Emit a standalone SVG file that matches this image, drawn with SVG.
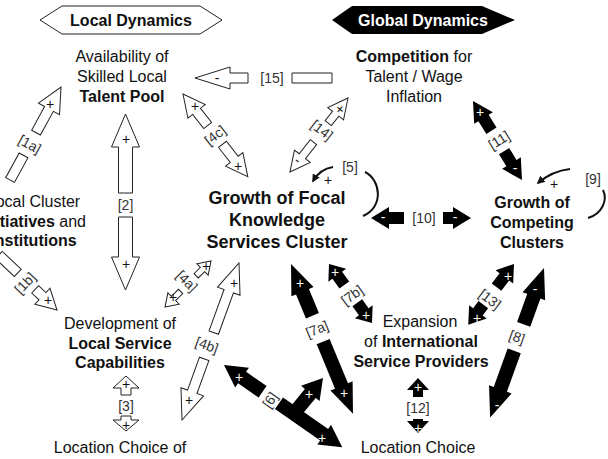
<svg xmlns="http://www.w3.org/2000/svg" width="608" height="459" viewBox="0 0 608 459">
<style>
text{font-family:"Liberation Sans",Arial,sans-serif}
.n{font-size:16px;fill:#111;text-anchor:middle}
.m{font-size:18px;font-weight:bold;fill:#111;text-anchor:middle}
.bd{font-weight:bold}
.w{fill:#fff;stroke:#222;stroke-width:1}
.b{fill:#000}
.lb{font-size:14px;fill:#333;text-anchor:middle;dominant-baseline:central}
.s{font-size:14px;fill:#111;text-anchor:middle;dominant-baseline:central}
.sw{font-size:14px;fill:#fff;text-anchor:middle;dominant-baseline:central}
.loop{fill:none;stroke:#111;stroke-width:2}
</style>
<defs>
<marker id="ah" viewBox="0 0 10 10" refX="8" refY="5" markerWidth="4" markerHeight="4" orient="auto"><path d="M0,0 L10,5 L0,10 z" fill="#111"/></marker>
</defs>
<rect width="608" height="459" fill="#fff"/>

<g id="hdr-local">
<polygon points="40,20 62,6 200,6 222,20 200,34 62,34" fill="#fff" stroke="#222" stroke-width="1"/>
<text x="131" y="26" class="n bd">Local Dynamics</text>
</g>
<g id="hdr-global">
<polygon points="332,20 352,6 482,6 515,20 482,34 352,34" fill="#000"/>
<text x="423" y="26" class="n bd" style="fill:#fff">Global Dynamics</text>
</g>

<g id="node-talent">
<text class="n" x="122" y="62">Availability of</text>
<text class="n" x="122" y="82">Skilled Local</text>
<text class="n bd" x="122" y="102">Talent Pool</text>
</g>
<g id="node-competition">
<text class="n" x="414" y="62"><tspan class="bd">Competition</tspan> for</text>
<text class="n" x="414" y="82">Talent / Wage</text>
<text class="n" x="414" y="102">Inflation</text>
</g>
<g id="node-initiatives">
<text class="n" x="33.5" y="207">Local Cluster</text>
<text class="n" x="33.5" y="227"><tspan class="bd">Initiatives</tspan> and</text>
<text class="n bd" x="33.5" y="246">Institutions</text>
</g>
<g id="node-focal">
<text class="m" x="277" y="204">Growth of Focal</text>
<text class="m" x="277" y="226">Knowledge</text>
<text class="m" x="277" y="248">Services Cluster</text>
</g>
<g id="node-competing">
<text class="n bd" x="532" y="208">Growth of</text>
<text class="n bd" x="532" y="228">Competing</text>
<text class="n bd" x="532" y="248">Clusters</text>
</g>
<g id="node-capabilities">
<text class="n" x="120" y="329">Development of</text>
<text class="n bd" x="120" y="349">Local Service</text>
<text class="n bd" x="120" y="368">Capabilities</text>
</g>
<g id="node-providers">
<text class="n" x="420" y="327">Expansion</text>
<text class="n" x="421" y="347">of <tspan class="bd">International</tspan></text>
<text class="n bd" x="421" y="367">Service Providers</text>
</g>
<g id="node-location-local">
<text class="n" x="120" y="453">Location Choice of</text>
</g>
<g id="node-location-global">
<text class="n" x="418" y="453">Location Choice</text>
</g>

<g id="connectors">
<!-- 1a -->
<g transform="translate(61,87) rotate(118.7)" class="w">
<polygon points="0,0 25,-12 25,-5 52,-5 52,5 25,5 25,12"/>
<polygon points="78,-5 106,-5 106,5 78,5"/>
</g>
<text class="lb" transform="translate(29.8,144) rotate(28.7)">[1a]</text>
<text class="s" x="50" y="104">+</text>
<!-- 1b -->
<g transform="translate(57,310) rotate(-136.6)" class="w">
<polygon points="0,0 20,-11 20,-5 30,-5 30,5 20,5 20,11"/>
<polygon points="54,-5 80,-5 80,5 54,5"/>
</g>
<text class="lb" transform="translate(25,283) rotate(-46.6)">[1b]</text>
<text class="s" x="48" y="300">+</text>
<!-- 2 -->
<g transform="translate(125.5,114) rotate(90)" class="w">
<polygon points="0,0 33,-14 33,-7 79,-7 79,7 33,7 33,14"/>
<polygon points="176,0 143,-14 143,-7 103,-7 103,7 143,7 143,14"/>
</g>
<text class="lb" x="125.5" y="205">[2]</text>
<text class="s" x="126" y="139">+</text>
<text class="s" x="126" y="264">+</text>
<!-- 3 -->
<g transform="translate(126,376) rotate(90)" class="w">
<polygon points="0,0 12,-13 12,-5 19,-5 19,5 12,5 12,13"/>
<polygon points="55,0 44,-13 44,-5 40,-5 40,5 44,5 44,13"/>
</g>
<text class="lb" x="126" y="406">[3]</text>
<text class="s" x="126" y="384">+</text>
<text class="s" x="126" y="425">+</text>
<!-- 4a -->
<g transform="translate(211,261) rotate(135)" class="w">
<polygon points="0,0 12,-8 12,-3 21,-3 21,3 12,3 12,8"/>
<polygon points="65,0 53,-8 53,-3 43,-3 43,3 53,3 53,8"/>
</g>
<text class="lb" transform="translate(187,281) rotate(45)">[4a]</text>
<text class="s" x="206" y="266">+</text>
<text class="s" x="173" y="297">+</text>
<!-- 4b -->
<g transform="translate(239,263) rotate(109.95)" class="w">
<polygon points="0,0 30,-12 30,-5 74,-5 74,5 30,5 30,12"/>
<polygon points="167,0 137,-12 137,-5 102,-5 102,5 137,5 137,12"/>
</g>
<text class="lb" transform="translate(207,345) rotate(20)">[4b]</text>
<text class="s" x="234" y="283">+</text>
<text class="s" x="189" y="400">+</text>
<!-- 4c -->
<g transform="translate(183,94) rotate(51.9)" class="w">
<polygon points="0,0 22,-11 22,-5 40,-5 40,5 22,5 22,11"/>
<polygon points="105,0 83,-11 83,-5 64,-5 64,5 83,5 83,11"/>
</g>
<text class="lb" transform="translate(215,135) rotate(-38)">[4c]</text>
<text class="s" x="195" y="106">+</text>
<text class="s" x="238" y="166">+</text>
<!-- 14 -->
<g transform="translate(348,98) rotate(128.1)" class="w">
<polygon points="0,0 20,-10 20,-4 32,-4 32,4 20,4 20,10"/>
<polygon points="94,0 74,-10 74,-4 56,-4 56,4 74,4 74,10"/>
</g>
<text class="lb" transform="translate(322,130) rotate(38)">[14]</text>
<text class="s" transform="translate(340,109) rotate(40)">+</text>
<text class="s" transform="translate(298,160) rotate(40)">-</text>
<!-- 15 -->
<g transform="translate(195,78)" class="w">
<polygon points="0,0 35,-11 35,-5 53,-5 53,5 35,5 35,11"/>
<polygon points="97,-5 137,-5 137,5 97,5"/>
</g>
<text class="lb" x="272" y="78">[15]</text>
<text class="s" x="217" y="78">-</text>
<!-- 5 loop -->
<path class="loop" d="M365,172 C381,180 384,207 363,216"/>
<path class="loop" d="M333,167 Q320,169 313,181" marker-end="url(#ah)"/>
<text class="lb" x="350" y="167">[5]</text>
<text class="s" x="328" y="180">+</text>
<!-- 9 loop -->
<path class="loop" d="M603,190 C608,200 602,214 588,218"/>
<path class="loop" d="M570,169 Q552,171 538,183" marker-end="url(#ah)"/>
<text class="lb" x="593" y="179">[9]</text>
<text class="s" x="554" y="184">+</text>
<!-- 6 -->
<g transform="translate(224,365) rotate(34.8)" class="b">
<polygon points="0,0 22,-12 22,-7 47,-7 47,7 22,7 22,12"/>
<polygon points="144,0 122,-12 122,-7 67,-7 67,7 122,7 122,12"/>
</g>
<g transform="translate(323,378) rotate(129.4)" class="b">
<polygon points="0,0 20,-12 20,-7 50,-7 50,7 20,7 20,12"/>
</g>
<text class="lb" transform="translate(270,400) rotate(-55)">[6]</text>
<text class="sw" x="239" y="377">+</text>
<text class="sw" x="309" y="394">+</text>
<text class="sw" x="322" y="438">+</text>
<!-- 7a -->
<g transform="translate(291,264) rotate(67.5)" class="b">
<polygon points="0,0 30,-12 30,-7 56,-7 56,7 30,7 30,12"/>
<polygon points="162,0 132,-12 132,-7 84,-7 84,7 132,7 132,12"/>
</g>
<text class="lb" transform="translate(317,329) rotate(-22.5)">[7a]</text>
<text class="sw" x="300" y="283">+</text>
<text class="sw" x="344" y="393">+</text>
<!-- 7b -->
<g transform="translate(329,264) rotate(53.9)" class="b">
<polygon points="0,0 14,-11 14,-6 26,-6 26,6 14,6 14,11"/>
<polygon points="73,0 59,-11 59,-6 48,-6 48,6 59,6 59,11"/>
</g>
<text class="lb" transform="translate(352,295) rotate(-36)">[7b]</text>
<text class="sw" x="335" y="272">+</text>
<text class="sw" x="366" y="315">+</text>
<!-- 8 -->
<g transform="translate(544,268) rotate(109.8)" class="b">
<polygon points="0,0 30,-12 30,-7 60,-7 60,7 30,7 30,12"/>
<polygon points="159,0 129,-12 129,-7 88,-7 88,7 129,7 129,12"/>
</g>
<text class="lb" transform="translate(517,337) rotate(20)">[8]</text>
<text class="sw" x="535" y="289">-</text>
<text class="sw" x="497" y="405">-</text>
<!-- 10 -->
<g transform="translate(371,218)" class="b">
<polygon points="0,0 18,-11 18,-6 33,-6 33,6 18,6 18,11"/>
<polygon points="100,0 82,-11 82,-6 72,-6 72,6 82,6 82,11"/>
</g>
<text class="lb" x="424" y="218">[10]</text>
<text class="sw" x="383" y="217">-</text>
<text class="sw" x="455" y="217">-</text>
<!-- 11 -->
<g transform="translate(473,101) rotate(58.2)" class="b">
<polygon points="0,0 20,-11 20,-6 35,-6 35,6 20,6 20,11"/>
<polygon points="93,0 73,-11 73,-6 59,-6 59,6 73,6 73,11"/>
</g>
<text class="lb" transform="translate(499,140) rotate(-32)">[11]</text>
<text class="sw" x="480" y="112">+</text>
<text class="sw" x="515" y="168">-</text>
<!-- 12 -->
<g transform="translate(418,378) rotate(90)" class="b">
<polygon points="0,0 12,-11 12,-5 19,-5 19,5 12,5 12,11"/>
<polygon points="55,0 43,-11 43,-5 41,-5 41,5 43,5 43,11"/>
</g>
<text class="lb" x="418" y="408">[12]</text>
<text class="sw" x="418" y="387">+</text>
<text class="sw" x="418" y="428">+</text>
<!-- 13 -->
<g transform="translate(514,264) rotate(127)" class="b">
<polygon points="0,0 16,-11 16,-6 29,-6 29,6 16,6 16,11"/>
<polygon points="76,0 60,-11 60,-6 51,-6 51,6 60,6 60,11"/>
</g>
<text class="lb" transform="translate(490,299) rotate(37)">[13]</text>
<text class="sw" x="508" y="276">+</text>
<text class="sw" x="477" y="318">+</text>
</g>
</svg>
